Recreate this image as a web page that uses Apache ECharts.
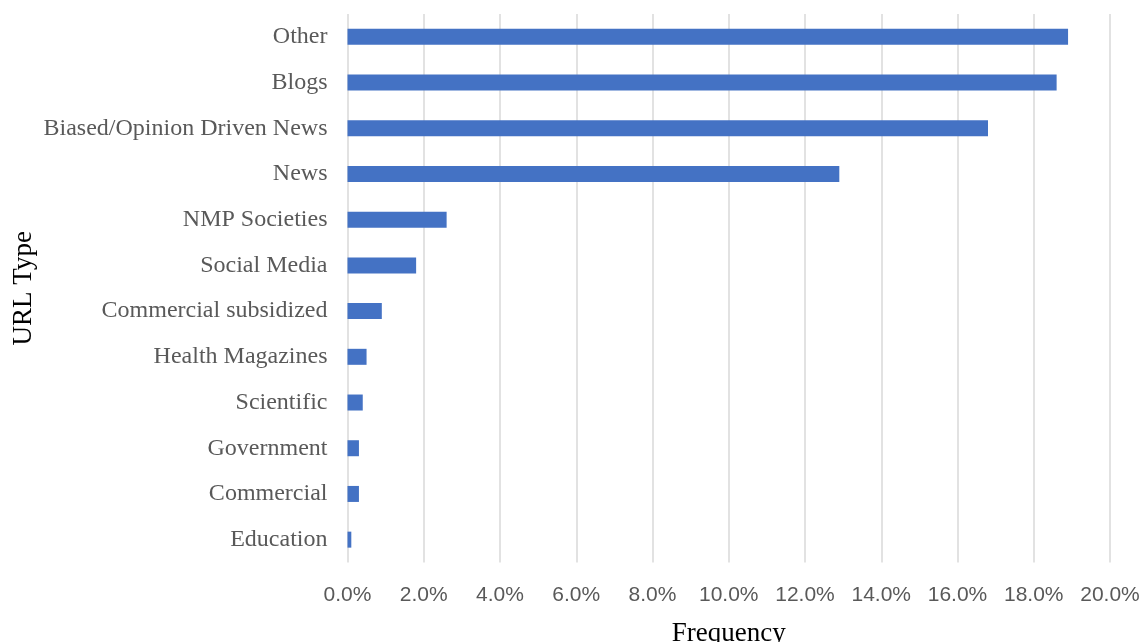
<!DOCTYPE html>
<html>
<head>
<meta charset="utf-8">
<script src="https://cdn.jsdelivr.net/npm/echarts@6/dist/echarts.min.js"></script>
<style>
  html, body { margin: 0; padding: 0; background: #fff; }
  #chart { width: 1141px; height: 642px; }
</style>
</head>
<body>
<div id="chart"></div>
<script>
// URL types, listed top to bottom
const categories = [
  'Other', 'Blogs', 'Biased/Opinion Driven News', 'News', 'NMP Societies',
  'Social Media', 'Commercial subsidized', 'Health Magazines', 'Scientific',
  'Government', 'Commercial', 'Education'
];
// Share of URLs per type, in percent
const frequency = [18.9, 18.6, 16.8, 12.9, 2.6, 1.8, 0.9, 0.5, 0.4, 0.3, 0.3, 0.1];
// Frequency axis range, in percent
const axisMin = 0;
const axisMax = 20;
const axisStep = 2;

const chart = echarts.init(document.getElementById('chart'), null, { renderer: 'canvas' });
chart.setOption({
  animation: false,
  backgroundColor: '#ffffff',
  grid: {
    left: 347.5, right: 31, top: 14, bottom: 79.5,
    containLabel: false,
    outerBoundsMode: 'none'
  },
  xAxis: {
    type: 'value',
    min: axisMin,
    max: axisMax,
    interval: axisStep,
    name: 'Frequency',
    nameLocation: 'middle',
    nameGap: 58,
    nameMoveOverlap: false,
    nameTextStyle: { fontFamily: 'Liberation Serif', fontSize: 27, color: '#000000' },
    axisLine: { show: false },
    axisTick: { show: false },
    axisLabel: {
      margin: 22,
      fontFamily: 'Liberation Sans Narrow, Liberation Sans, sans-serif',
      fontSize: 21,
      color: '#595959',
      formatter: v => v.toFixed(1) + '%'
    },
    splitLine: { show: true, lineStyle: { color: '#d9d9d9', width: 1.5 } }
  },
  yAxis: {
    type: 'category',
    data: categories,
    inverse: true,
    name: 'URL Type',
    nameLocation: 'middle',
    nameGap: 310,
    nameRotate: 90,
    nameMoveOverlap: false,
    nameTextStyle: { fontFamily: 'Liberation Serif', fontSize: 27, color: '#000000' },
    axisLine: { show: false },
    axisTick: { show: false },
    axisLabel: {
      margin: 20,
      fontFamily: 'Liberation Serif',
      fontSize: 24,
      color: '#595959'
    },
    splitLine: { show: false }
  },
  series: [{
    type: 'bar',
    data: frequency,
    barWidth: 16,
    itemStyle: { color: '#4472C4' }
  }]
});
</script>
</body>
</html>
